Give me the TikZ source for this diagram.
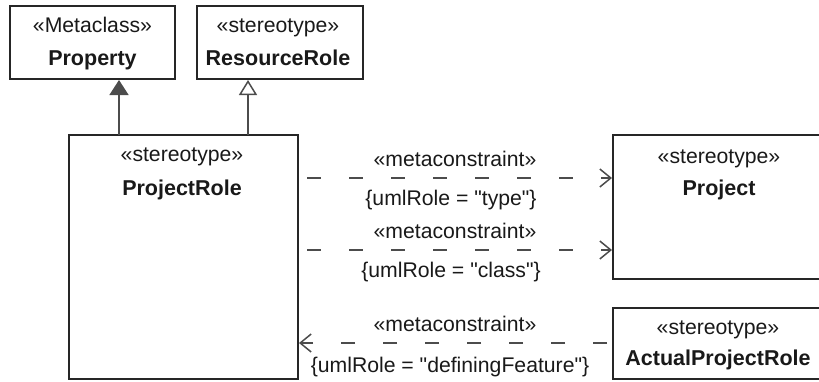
\documentclass[tikz,border=0pt]{standalone}
\usepackage{fontspec}
\setmainfont{Liberation Sans}
\newfontfamily\lsans{Liberation Sans}
\usetikzlibrary{arrows.meta}
\begin{document}
\begin{tikzpicture}[x=1pt,y=-1pt,
  box/.style={draw=black!85, line width=2pt, rectangle, inner sep=0pt},
  txt/.style={inner sep=0pt, anchor=base, font=\lsans\fontsize{21.2}{24}\selectfont, text=black!90},
  nm/.style={inner sep=0pt, anchor=base, font=\lsans\fontsize{21.5}{24}\selectfont\bfseries, text=black!90},
  conn/.style={draw=black!70, line width=1.5pt},
  dep/.style={conn, dash pattern=on 14pt off 28pt, -{Straight Barb[length=11pt,width=18pt,line width=1.5pt]}},
]
\useasboundingbox (0,0) rectangle (819,381);
\clip (0,0) rectangle (819,381);
% boxes
\node[box, minimum width=165pt, minimum height=73pt] (prop) at (92.5,42.5) {};
\node[box, minimum width=166pt, minimum height=73pt] (rr) at (280,42.5) {};
\node[box, minimum width=229pt, minimum height=244pt] (pr) at (183.5,257) {};
\node[box, minimum width=217pt, minimum height=144pt] (proj) at (721.5,207) {};
\node[box, minimum width=217pt, minimum height=71pt] (apr) at (721.5,343.5) {};
% box texts
\node[txt] (propS) at (92.5,32) {«Metaclass»};
\node[nm] (propN) at (92.5,65) {Property};
\node[txt] (rrS) at (278,32) {«stereotype»};
\node[nm] (rrN) at (278,65) {ResourceRole};
\node[txt] (prS) at (182,161) {«stereotype»};
\node[nm] (prN) at (182,195) {ProjectRole};
\node[txt] (projS) at (719,163) {«stereotype»};
\node[nm] (projN) at (719,195) {Project};
\node[txt] (aprS) at (718,334) {«stereotype»};
\node[nm] (aprN) at (718,365) {ActualProjectRole};
% generalizations
\coordinate (g1) at (119,135);
\coordinate (g2) at (248,135);
\draw[conn, -{Triangle[length=15pt,width=19pt,fill=black!70]}] (g1) -- (g1 |- prop.south);
\draw[conn, -{Triangle[open,length=15pt,width=18pt,fill=white]}] (g2) -- (g2 |- rr.south);
% dependencies
\coordinate (a1) at (0,178);
\coordinate (a2) at (0,250);
\coordinate (a3) at (0,343);
\draw[dep, shorten <=8pt] (pr.east |- a1) -- (proj.west |- a1);
\draw[dep, shorten <=8pt] (pr.east |- a2) -- (proj.west |- a2);
\draw[dep, shorten <=5pt] (apr.west |- a3) -- (pr.east |- a3);
% labels
\node[txt] (l1a) at (455,166) {«metaconstraint»};
\node[txt] (l1b) at (451,205) {\{umlRole = "type"\}};
\node[txt] (l2a) at (455,238) {«metaconstraint»};
\node[txt] (l2b) at (451,277) {\{umlRole = "class"\}};
\node[txt] (l3a) at (455,331) {«metaconstraint»};
\node[txt] (l3b) at (450,372) {\{umlRole = "definingFeature"\}};
\end{tikzpicture}
\end{document}
